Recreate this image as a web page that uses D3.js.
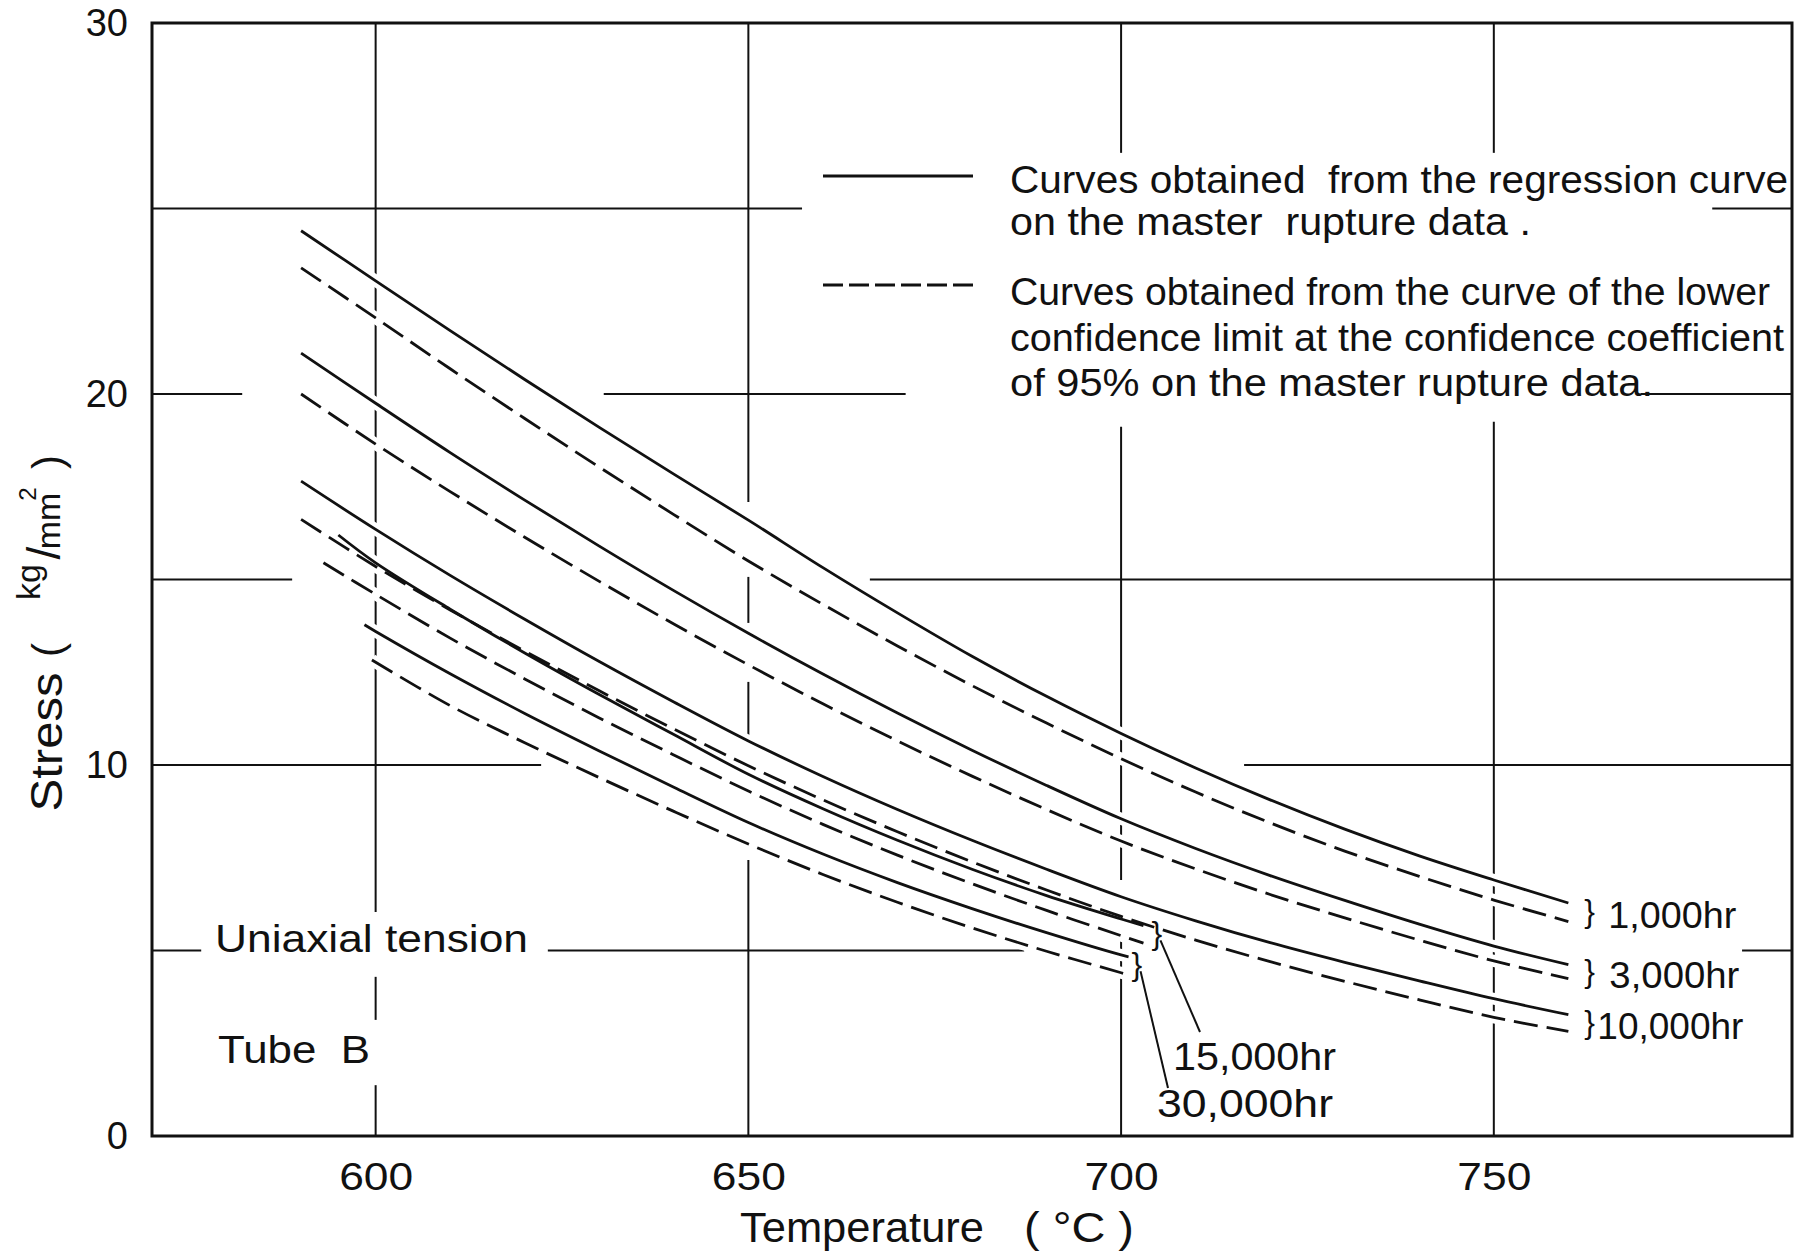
<!DOCTYPE html>
<html>
<head>
<meta charset="utf-8">
<script src="https://cdn.jsdelivr.net/npm/d3@7"></script>
<style>
  body { margin: 0; background: #fff; }
  svg { display: block; }
  text { font-family: "Liberation Sans", Arial, sans-serif; fill: #111; white-space: pre; }
</style>
</head>
<body>
<svg id="chart"></svg>
<script>
// temperatures (°C) where the long curves were read
let temps = [590, 600, 610, 620, 630, 640, 650, 660, 670, 680, 690, 700, 710, 720, 730, 740, 750, 760]

// stress (kg/mm2) - regression curves (solid) and lower confidence limit (dashed)
let r1000     = [24.4, 23.05, 21.71, 20.39, 19.1, 17.84, 16.6, 15.32, 14.1, 12.93, 11.85, 10.85, 9.92, 9.06, 8.27, 7.55, 6.9, 6.28]
let r1000Low  = [23.4, 22.05, 20.68, 19.34, 18.03, 16.75, 15.5, 14.33, 13.21, 12.14, 11.13, 10.17, 9.27, 8.44, 7.68, 7.0, 6.36, 5.78]
let r3000     = [21.1, 19.75, 18.42, 17.14, 15.9, 14.7, 13.55, 12.45, 11.4, 10.4, 9.45, 8.55, 7.75, 7.02, 6.35, 5.71, 5.12, 4.62]
let r3000Low  = [20.0, 18.65, 17.37, 16.14, 14.95, 13.8, 12.7, 11.65, 10.65, 9.7, 8.8, 7.95, 7.2, 6.51, 5.88, 5.28, 4.72, 4.24]
let r10000    = [17.65, 16.35, 15.11, 13.93, 12.79, 11.7, 10.65, 9.69, 8.8, 7.97, 7.19, 6.45, 5.8, 5.21, 4.68, 4.18, 3.7, 3.27]
let r10000Low = [16.62, 15.35, 14.18, 13.07, 12.0, 10.97, 9.98, 9.06, 8.2, 7.39, 6.63, 5.92, 5.28, 4.7, 4.17, 3.67, 3.2, 2.82]

// the 15,000 and 30,000 hr curves are shorter
let temps15000    = [595, 600, 610, 620, 630, 640, 650, 660, 670, 680, 690, 700, 703]
let r15000        = [16.2, 15.45, 14.2, 13.02, 11.9, 10.82, 9.75, 8.82, 7.97, 7.19, 6.48, 5.85, 5.67]
let temps15000Low = [593, 600, 610, 620, 630, 640, 650, 660, 670, 680, 690, 700, 703]
let r15000Low     = [15.45, 14.6, 13.42, 12.32, 11.27, 10.27, 9.3, 8.4, 7.57, 6.8, 6.08, 5.4, 5.2]
let temps30000    = [598.5, 600, 610, 620, 630, 640, 650, 660, 670, 680, 690, 700, 701]
let r30000        = [13.78, 13.6, 12.46, 11.39, 10.38, 9.4, 8.45, 7.6, 6.83, 6.13, 5.48, 4.88, 4.83]
let temps30000Low = [599.5, 610, 620, 630, 640, 650, 660, 670, 680, 690, 700, 700.5]
let r30000Low     = [12.83, 11.6, 10.6, 9.66, 8.75, 7.87, 7.05, 6.3, 5.61, 4.98, 4.4, 4.37]

let xTicks = [600, 650, 700, 750]
let yTicks = [0, 10, 20, 30]

// pieces of the grid that are drawn on the original sheet
// horizontal: [stress, tempFrom, tempTo]   vertical: [temp, stressFrom, stressTo]
let hGrid = [
  [25, 570, 657.2], [25, 779.3, 790],
  [20, 570, 582.1], [20, 630.6, 671.1], [20, 769.7, 790],
  [15, 570, 588.8], [15, 666.3, 790],
  [10, 570, 622.2], [10, 716.5, 790],
  [5, 570, 576.6], [5, 623.1, 687], [5, 783.3, 790]
]
let vGrid = [
  [600, 30, 6.04], [600, 4.29, 3.13], [600, 1.37, 0],
  [650, 30, 17.09], [650, 15.07, 13.83], [650, 12.24, 10.81], [650, 7.44, 0],
  [700, 30, 26.5], [700, 19.12, 6.9], [700, 5.28, 0],
  [750, 30, 26.5], [750, 19.25, 0]
]

let legendLines = [
  "Curves obtained  from the regression curve",
  "on the master  rupture data .",
  "Curves obtained from the curve of the lower",
  "confidence limit at the confidence coefficient",
  "of 95% on the master rupture data."
]

let pairs = [
  {label: "1,000hr",  t: temps, hi: r1000,  tLow: temps, lo: r1000Low},
  {label: "3,000hr",  t: temps, hi: r3000,  tLow: temps, lo: r3000Low},
  {label: "10,000hr", t: temps, hi: r10000, tLow: temps, lo: r10000Low},
  {label: "15,000hr", t: temps15000, hi: r15000, tLow: temps15000Low, lo: r15000Low},
  {label: "30,000hr", t: temps30000, hi: r30000, tLow: temps30000Low, lo: r30000Low}
]

let width = 1805
let height = 1252

let x = d3.scaleLinear().domain([570, 790]).range([152, 1792])
let y = d3.scaleLinear().domain([0, 30]).range([1136, 23])

let svg = d3.select("#chart")
    .attr("width", width)
    .attr("height", height)

// grid
let grid = svg.append("g").attr("stroke", "#111").attr("stroke-width", 2)
hGrid.forEach(d => {
  grid.append("line")
      .attr("x1", x(d[1])).attr("x2", x(d[2]))
      .attr("y1", y(d[0])).attr("y2", y(d[0]))
})
vGrid.forEach(d => {
  grid.append("line")
      .attr("x1", x(d[0])).attr("x2", x(d[0]))
      .attr("y1", y(d[1])).attr("y2", y(d[2]))
})

// frame
svg.append("rect")
    .attr("x", x(570)).attr("y", y(30))
    .attr("width", x(790) - x(570)).attr("height", y(0) - y(30))
    .attr("fill", "none").attr("stroke", "#111").attr("stroke-width", 3)

// curves
let lines = []
pairs.forEach(p => {
  lines.push({pts: p.t.map((t, i) => [t, p.hi[i]]), dashed: false})
  lines.push({pts: p.tLow.map((t, i) => [t, p.lo[i]]), dashed: true})
})

let valueline = d3.line()
    .x(d => x(d[0]))
    .y(d => y(d[1]))
    .curve(d3.curveCatmullRom.alpha(0.5))

// white halo under each curve: the grid is broken where a curve crosses it
svg.append("g").selectAll("path")
    .data(lines)
    .enter().append("path")
    .attr("d", d => valueline(d.pts))
    .attr("fill", "none")
    .attr("stroke", "#fff")
    .attr("stroke-width", 12)

svg.append("g").selectAll("path")
    .data(lines)
    .enter().append("path")
    .attr("d", d => valueline(d.pts))
    .attr("fill", "none")
    .attr("stroke", "#111")
    .attr("stroke-width", 2.8)
    .attr("stroke-dasharray", d => d.dashed ? "24 9" : null)

// axes (labels only, the frame is the axis line)
let xAxis = svg.append("g")
    .attr("transform", `translate(0, ${y(0)})`)
    .call(d3.axisBottom(x).tickValues(xTicks).tickSize(0).tickPadding(26))
xAxis.select(".domain").remove()
xAxis.selectAll("text")
    .style("font-family", '"Liberation Sans", Arial, sans-serif')
    .attr("font-size", 39)
    .attr("fill", "#111")
    .attr("textLength", 74)
    .attr("lengthAdjust", "spacingAndGlyphs")

let yAxis = svg.append("g")
    .attr("transform", `translate(${x(570)}, 0)`)
    .call(d3.axisLeft(y).tickValues(yTicks).tickSize(0).tickPadding(24))
yAxis.select(".domain").remove()
yAxis.selectAll("text")
    .style("font-family", '"Liberation Sans", Arial, sans-serif')
    .attr("font-size", 38)
    .attr("fill", "#111")

// axis titles
svg.append("text").text("Temperature")
    .attr("x", 740).attr("y", 1242)
    .attr("font-size", 42)
    .attr("textLength", 244).attr("lengthAdjust", "spacingAndGlyphs")
svg.append("text").text("( °C )")
    .attr("x", 1024).attr("y", 1242)
    .attr("font-size", 42)
    .attr("textLength", 110).attr("lengthAdjust", "spacingAndGlyphs")

let yTitle = [
  {t: "Stress", bx: 62, cy: 742, fs: 44, len: 139},
  {t: "(", bx: 62, cy: 650, fs: 42},
  {t: "kg", bx: 40, cy: 582, fs: 34},
  {t: "/", bx: 60, cy: 553, fs: 46},
  {t: "mm", bx: 60, cy: 521, fs: 34},
  {t: "2", bx: 36, cy: 494, fs: 24},
  {t: ")", bx: 62, cy: 462, fs: 42}
]
yTitle.forEach(d => {
  let t = svg.append("text").text(d.t)
      .attr("transform", `translate(${d.bx}, ${d.cy}) rotate(-90)`)
      .attr("text-anchor", "middle")
      .attr("font-size", d.fs)
  if (d.len) t.attr("textLength", d.len).attr("lengthAdjust", "spacingAndGlyphs")
})

// legend
let legendW = [778, 521, 760, 774, 643]
let legendY = [193, 235, 305, 351, 396]
legendLines.forEach((s, i) => {
  svg.append("text").text(s)
      .attr("x", 1010).attr("y", legendY[i])
      .attr("font-size", 38)
      .attr("textLength", legendW[i]).attr("lengthAdjust", "spacingAndGlyphs")
})
svg.append("line")
    .attr("x1", 823).attr("x2", 973).attr("y1", 176).attr("y2", 176)
    .attr("stroke", "#111").attr("stroke-width", 2.8)
svg.append("line")
    .attr("x1", 823).attr("x2", 973).attr("y1", 285).attr("y2", 285)
    .attr("stroke", "#111").attr("stroke-width", 2.8)
    .attr("stroke-dasharray", "20 6")

// notes
svg.append("text").text("Uniaxial tension")
    .attr("x", 215).attr("y", 952).attr("font-size", 38)
    .attr("textLength", 313).attr("lengthAdjust", "spacingAndGlyphs")
svg.append("text").text("Tube  B")
    .attr("x", 218).attr("y", 1063).attr("font-size", 38)
    .attr("textLength", 152).attr("lengthAdjust", "spacingAndGlyphs")

// end labels with braces
let labelDx = [40, 41, 29]
let labelW = [128, 130, 146]
pairs.slice(0, 3).forEach((p, i) => {
  let tEnd = p.t[p.t.length - 1]
  let mid = (y(p.hi[p.hi.length - 1]) + y(p.lo[p.lo.length - 1])) / 2
  svg.append("text").text("}")
      .attr("x", x(tEnd) + 16).attr("y", mid + 10)
      .attr("font-size", 32)
  svg.append("text").text(p.label)
      .attr("x", x(tEnd) + labelDx[i]).attr("y", mid + 16)
      .attr("font-size", 36)
      .attr("textLength", labelW[i]).attr("lengthAdjust", "spacingAndGlyphs")
})

// 15,000 and 30,000 hr: brace, leader line and label below
let shortLab = [
  {p: pairs[3], bdx: 8, lead: [1200, 1032], tx: 1173, ty: 1070, w: 163},
  {p: pairs[4], bdx: 3, lead: [1168, 1088], tx: 1157, ty: 1117, w: 176}
]
shortLab.forEach(d => {
  let tEnd = d.p.t[d.p.t.length - 1]
  let bx = x(tEnd) + d.bdx
  let mid = (y(d.p.hi[d.p.hi.length - 1]) + y(d.p.lo[d.p.lo.length - 1])) / 2
  svg.append("text").text("}")
      .attr("x", bx).attr("y", mid + 10)
      .attr("font-size", 32)
  svg.append("line")
      .attr("x1", bx + 9).attr("y1", mid + 6)
      .attr("x2", d.lead[0]).attr("y2", d.lead[1])
      .attr("stroke", "#111").attr("stroke-width", 2)
  svg.append("text").text(d.p.label)
      .attr("x", d.tx).attr("y", d.ty)
      .attr("font-size", 38)
      .attr("textLength", d.w).attr("lengthAdjust", "spacingAndGlyphs")
})
</script>
</body>
</html>
